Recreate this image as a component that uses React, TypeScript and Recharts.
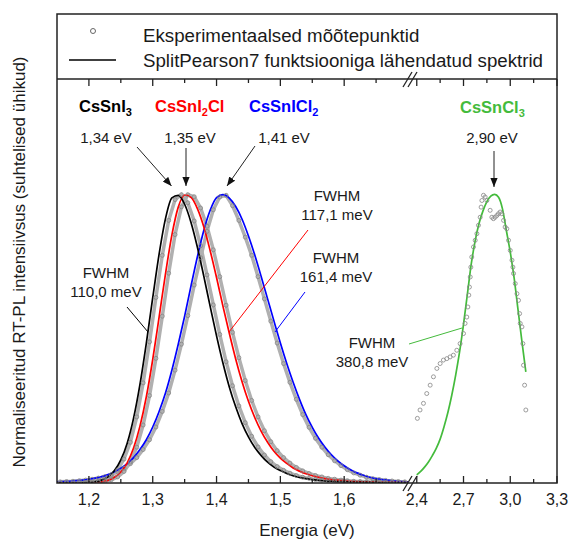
import React from 'react';
import { ComposedChart, Line, XAxis, YAxis } from 'recharts';

const FONT = '"Liberation Sans", Arial, Helvetica, sans-serif';
const INK = '#1a1a1a';
const FRAME = '#222222';
const RED = '#ff0000';
const BLUE = '#0000ff';
const GREEN = '#44bb3c';
const EXP_BAND = '#b0b0b0';
const EXP_RING = '#858585';

// left panel: fitted SplitPearson7 curves, 10 meV grid
const fitEnergy = [
  1.15, 1.16, 1.17, 1.18, 1.19, 1.2, 1.21, 1.22, 1.23, 1.24,
  1.25, 1.26, 1.27, 1.28, 1.29, 1.3, 1.31, 1.32, 1.33, 1.34,
  1.35, 1.36, 1.37, 1.38, 1.39, 1.4, 1.41, 1.42, 1.43, 1.44,
  1.45, 1.46, 1.47, 1.48, 1.49, 1.5, 1.51, 1.52, 1.53, 1.54,
  1.55, 1.56, 1.57, 1.58, 1.59, 1.6, 1.61, 1.62, 1.63, 1.64,
  1.65, 1.66, 1.67, 1.68, 1.69, 1.7,
];
const fitCsSnI3 = [
  0, 0, 0, 0, 0.001, 0.002, 0.005, 0.01, 0.021, 0.043,
  0.08, 0.138, 0.225, 0.342, 0.485, 0.642, 0.793, 0.916, 0.988, 0.997,
  0.966, 0.903, 0.817, 0.717, 0.612, 0.51, 0.416, 0.333, 0.264, 0.206,
  0.16, 0.123, 0.095, 0.072, 0.055, 0.043, 0.033, 0.025, 0.019, 0.015,
  0.012, 0.009, 0.007, 0.006, 0.005, 0.004, 0.003, 0.002, 0.002, 0.002,
  0.001, 0.001, 0.001, 0.001, 0.001, 0.001,
];
const fitCsSnI2Cl = [
  0, 0, 0, 0, 0, 0.001, 0.002, 0.004, 0.009, 0.02,
  0.038, 0.07, 0.121, 0.197, 0.299, 0.428, 0.575, 0.725, 0.859, 0.956,
  0.998, 0.99, 0.951, 0.888, 0.805, 0.712, 0.613, 0.519, 0.43, 0.351,
  0.283, 0.226, 0.179, 0.141, 0.11, 0.086, 0.068, 0.052, 0.041, 0.032,
  0.025, 0.02, 0.015, 0.012, 0.01, 0.008, 0.006, 0.005, 0.004, 0.003,
  0.003, 0.002, 0.002, 0.002, 0.001, 0.001,
];
const fitCsSnICl2 = [
  0.004, 0.005, 0.006, 0.008, 0.01, 0.013, 0.017, 0.022, 0.029, 0.039,
  0.051, 0.067, 0.088, 0.116, 0.15, 0.194, 0.248, 0.312, 0.391, 0.481,
  0.578, 0.683, 0.784, 0.875, 0.945, 0.989, 0.999, 0.987, 0.958, 0.914,
  0.856, 0.789, 0.715, 0.638, 0.561, 0.485, 0.414, 0.349, 0.29, 0.237,
  0.193, 0.155, 0.124, 0.098, 0.077, 0.06, 0.046, 0.035, 0.027, 0.02,
  0.015, 0.012, 0.009, 0.0065, 0.005, 0.004,
];

// left panel: measured points
const expEnergy = [
  1.155, 1.165, 1.175, 1.185, 1.195, 1.205, 1.215, 1.225, 1.235, 1.245,
  1.255, 1.265, 1.275, 1.285, 1.295, 1.305, 1.315, 1.325, 1.335, 1.345,
  1.355, 1.365, 1.375, 1.385, 1.395, 1.405, 1.415, 1.425, 1.435, 1.445,
  1.455, 1.465, 1.475, 1.485, 1.495, 1.505, 1.515, 1.525, 1.535, 1.545,
  1.555, 1.565, 1.575, 1.585, 1.595, 1.605, 1.615, 1.625, 1.635, 1.645,
  1.655, 1.665, 1.675, 1.685, 1.695,
];
const expCsSnI3 = [
  0, 0.001, 0, 0.001, 0.001, 0.003, 0.006, 0.011, 0.023, 0.045,
  0.083, 0.141, 0.229, 0.347, 0.489, 0.643, 0.789, 0.91, 0.982, 0.999,
  0.971, 0.908, 0.822, 0.721, 0.617, 0.515, 0.42, 0.337, 0.267, 0.209,
  0.162, 0.125, 0.097, 0.074, 0.057, 0.044, 0.034, 0.026, 0.02, 0.016,
  0.012, 0.01, 0.008, 0.006, 0.005, 0.004, 0.003, 0.003, 0.002, 0.002,
  0.002, 0.001, 0.001, 0.001, 0.001,
];
const expCsSnI2Cl = [
  0, 0, 0, 0.001, 0.001, 0.001, 0.003, 0.005, 0.011, 0.021,
  0.04, 0.073, 0.124, 0.201, 0.303, 0.432, 0.578, 0.727, 0.861, 0.957,
  0.999, 0.992, 0.953, 0.89, 0.808, 0.715, 0.616, 0.522, 0.434, 0.355,
  0.286, 0.229, 0.181, 0.143, 0.112, 0.088, 0.069, 0.054, 0.042, 0.033,
  0.026, 0.021, 0.016, 0.013, 0.01, 0.008, 0.006, 0.005, 0.004, 0.003,
  0.003, 0.002, 0.002, 0.002, 0.001,
];
const expCsSnICl2 = [
  0.004, 0.005, 0.006, 0.008, 0.01, 0.013, 0.017, 0.022, 0.029, 0.039,
  0.051, 0.067, 0.088, 0.116, 0.15, 0.194, 0.248, 0.312, 0.391, 0.481,
  0.58, 0.686, 0.781, 0.872, 0.947, 0.991, 0.997, 0.961, 0.91, 0.852,
  0.789, 0.715, 0.638, 0.561, 0.485, 0.414, 0.349, 0.29, 0.237, 0.193,
  0.155, 0.124, 0.098, 0.077, 0.06, 0.046, 0.035, 0.027, 0.02, 0.015,
  0.012, 0.009, 0.007, 0.005, 0.004,
];

// right panel: CsSnCl3
const fitCsSnCl3Energy = [
  2.4, 2.425, 2.45, 2.475, 2.5, 2.525, 2.55, 2.575, 2.6, 2.625,
  2.65, 2.675, 2.7, 2.725, 2.75, 2.775, 2.8, 2.825, 2.85, 2.875,
  2.9, 2.925, 2.95, 2.975, 3.0, 3.025, 3.05, 3.075, 3.1,
];
const fitCsSnCl3 = [
  0.028, 0.04, 0.055, 0.073, 0.095, 0.12, 0.152, 0.195, 0.245, 0.305,
  0.375, 0.455, 0.55, 0.655, 0.76, 0.84, 0.9, 0.943, 0.975, 0.994,
  1.0, 0.99, 0.95, 0.875, 0.8, 0.71, 0.6, 0.49, 0.385,
];
const expCsSnCl3Energy = [
  2.404, 2.421, 2.443, 2.464, 2.486, 2.507, 2.529, 2.55, 2.571, 2.593,
  2.614, 2.635, 2.657, 2.678, 2.7, 2.71, 2.721, 2.728, 2.734, 2.738,
  2.743, 2.747, 2.753, 2.764, 2.775, 2.786, 2.796, 2.807, 2.813, 2.818,
  2.828, 2.839, 2.85, 2.871, 2.882, 2.892, 2.903, 2.914, 2.924, 2.935,
  2.946, 2.957, 2.967, 2.978, 2.989, 3.0, 3.011, 3.017, 3.021, 3.032,
  3.043, 3.053, 3.06, 3.064, 3.075, 3.081, 3.085, 3.092, 3.1,
];
const expCsSnCl3 = [
  0.224, 0.253, 0.276, 0.31, 0.339, 0.368, 0.397, 0.414, 0.426, 0.431,
  0.437, 0.443, 0.46, 0.483, 0.518, 0.553, 0.575, 0.61, 0.651, 0.679,
  0.714, 0.748, 0.783, 0.818, 0.841, 0.864, 0.893, 0.921, 0.956, 0.979,
  0.997, 0.991, 0.979, 0.945, 0.921, 0.916, 0.921, 0.927, 0.933, 0.939,
  0.933, 0.91, 0.887, 0.881, 0.841, 0.806, 0.772, 0.748, 0.726, 0.691,
  0.656, 0.633, 0.587, 0.553, 0.541, 0.483, 0.408, 0.339, 0.253,
];

const leftMajorTicks = [1.2, 1.3, 1.4, 1.5, 1.6];
const leftMinorTicks = [1.25, 1.35, 1.45, 1.55, 1.65];
const rightMajorTicks = [2.4, 2.7, 3.0, 3.3];
const rightMinorTicks = [2.55, 2.85, 3.15];

const leftFitRows = fitEnergy.map((e, i) => ({
  e,
  i3: fitCsSnI3[i],
  i2cl: fitCsSnI2Cl[i],
  icl2: fitCsSnICl2[i],
}));
const leftExpRows = expEnergy.map((e, i) => ({
  e,
  i3: expCsSnI3[i],
  i2cl: expCsSnI2Cl[i],
  icl2: expCsSnICl2[i],
}));
const rightFitRows = fitCsSnCl3Energy.map((e, i) => ({ e, v: fitCsSnCl3[i] }));
const rightExpRows = expCsSnCl3Energy.map((e, i) => ({ e, v: expCsSnCl3[i] }));

const fmt = (v: number) => v.toFixed(1).replace('.', ',');

// ticks point into the plot; labels only under the major ones
function makeTick(majors: number[], dir: 1 | -1, labelled: boolean) {
  return (props: any) => {
    const { x, y, payload } = props;
    const major = majors.some((m) => Math.abs(m - payload.value) < 1e-6);
    const len = major ? 7 : 4;
    return (
      <g>
        <line x1={x} x2={x} y1={y} y2={y - dir * len} stroke={FRAME} strokeWidth={1.3} />
        {labelled && major && (
          <text x={x} y={y + 22} textAnchor="middle" fontSize={16} fontFamily={FONT} fill={INK}>
            {fmt(payload.value)}
          </text>
        )}
      </g>
    );
  };
}

const expDot = { r: 2, stroke: EXP_RING, strokeWidth: 0.8, fill: 'none' };

function LeftPanel() {
  const ticks = [...leftMajorTicks, ...leftMinorTicks];
  const expLine = (key: string) => (
    <Line
      xAxisId="b"
      data={leftExpRows}
      dataKey={key}
      type="linear"
      stroke={EXP_BAND}
      strokeWidth={3.5}
      dot={expDot}
      isAnimationActive={false}
    />
  );
  return (
    <ComposedChart width={408} height={540} margin={{ top: 49, right: 0, bottom: 27, left: 57 }}>
      <XAxis
        xAxisId="b"
        dataKey="e"
        type="number"
        domain={[1.15, 1.7]}
        ticks={ticks}
        interval={0}
        height={30}
        tickSize={0}
        tickMargin={0}
        axisLine={false}
        tickLine={false}
        tick={makeTick(leftMajorTicks, 1, true)}
        allowDataOverflow
      />
      <XAxis
        xAxisId="t"
        orientation="top"
        dataKey="e"
        type="number"
        domain={[1.15, 1.7]}
        ticks={ticks}
        interval={0}
        height={30}
        tickSize={0}
        tickMargin={0}
        axisLine={false}
        tickLine={false}
        tick={makeTick(leftMajorTicks, -1, false)}
        allowDataOverflow
      />
      <YAxis hide type="number" domain={[0, 1.4]} allowDataOverflow />
      {expLine('icl2')}
      {expLine('i2cl')}
      {expLine('i3')}
      <Line xAxisId="b" data={leftFitRows} dataKey="icl2" type="monotone" stroke={BLUE} strokeWidth={1.7} dot={false} isAnimationActive={false} />
      <Line xAxisId="b" data={leftFitRows} dataKey="i2cl" type="monotone" stroke={RED} strokeWidth={1.7} dot={false} isAnimationActive={false} />
      <Line xAxisId="b" data={leftFitRows} dataKey="i3" type="monotone" stroke="#000" strokeWidth={1.7} dot={false} isAnimationActive={false} />
    </ComposedChart>
  );
}

function RightPanel() {
  const ticks = [...rightMajorTicks, ...rightMinorTicks];
  return (
    <ComposedChart width={180} height={540} margin={{ top: 49, right: 14, bottom: 27, left: 20 }}>
      <XAxis
        xAxisId="b"
        dataKey="e"
        type="number"
        domain={[2.363, 3.3]}
        ticks={ticks}
        interval={0}
        height={30}
        tickSize={0}
        tickMargin={0}
        axisLine={false}
        tickLine={false}
        tick={makeTick(rightMajorTicks, 1, true)}
        allowDataOverflow
      />
      <XAxis
        xAxisId="t"
        orientation="top"
        dataKey="e"
        type="number"
        domain={[2.363, 3.3]}
        ticks={ticks}
        interval={0}
        height={30}
        tickSize={0}
        tickMargin={0}
        axisLine={false}
        tickLine={false}
        tick={makeTick(rightMajorTicks, -1, false)}
        allowDataOverflow
      />
      <YAxis hide type="number" domain={[0, 1.4]} allowDataOverflow />
      <Line xAxisId="b" data={rightExpRows} dataKey="v" type="linear" stroke="none" dot={expDot} isAnimationActive={false} />
      <Line xAxisId="b" data={rightFitRows} dataKey="v" type="monotone" stroke={GREEN} strokeWidth={1.7} dot={false} isAnimationActive={false} />
    </ComposedChart>
  );
}

function Compound({ x, y, color, parts }: { x: number; y: number; color: string; parts: [string, boolean][] }) {
  return (
    <text x={x} y={y} fill={color} fontFamily={FONT} fontWeight="bold" fontSize={16.5}>
      {parts.map(([t, sub], i) => (
        <tspan key={i} fontSize={sub ? 11 : 16.5} dy={sub ? 4 : i > 0 && parts[i - 1][1] ? -4 : 0}>
          {t}
        </tspan>
      ))}
    </text>
  );
}

function Note({ x, y, lines, color = INK }: { x: number; y: number; lines: string[]; color?: string }) {
  return (
    <text x={x} y={y} fill={color} fontFamily={FONT} fontSize={15} textAnchor="middle">
      {lines.map((l, i) => (
        <tspan key={i} x={x} dy={i === 0 ? 0 : 19}>
          {l}
        </tspan>
      ))}
    </text>
  );
}

function Overlay() {
  const arrow = { stroke: '#222', strokeWidth: 1, markerEnd: 'url(#tip)' };
  return (
    <svg width={571} height={540} style={{ position: 'absolute', left: 0, top: 0, pointerEvents: 'none' }}>
      <defs>
        <marker id="tip" viewBox="0 0 10 8" refX="10" refY="4" markerWidth="9" markerHeight="7.2" orient="auto" markerUnits="userSpaceOnUse">
          <path d="M0,0 L10,4 L0,8 z" fill="#111" />
        </marker>
      </defs>

      {/* frame and legend box */}
      <rect x={57} y={14} width={500} height={469} fill="none" stroke={FRAME} strokeWidth={1.5} />
      <line x1={57} x2={557} y1={79} y2={79} stroke={FRAME} strokeWidth={1.5} />
      <circle cx={93} cy={31} r={2.5} fill="none" stroke="#666" strokeWidth={1} />
      <line x1={69} x2={116} y1={60} y2={60} stroke="#000" strokeWidth={1.6} />
      <text x={143} y={41.5} fontFamily={FONT} fontSize={18.7} fill={INK}>Eksperimentaalsed mõõtepunktid</text>
      <text x={143} y={67} fontFamily={FONT} fontSize={18.7} fill={INK}>SplitPearson7 funktsiooniga lähendatud spektrid</text>

      {/* axis break marks */}
      <g stroke={FRAME} strokeWidth={1.3}>
        <line x1={403} y1={491} x2={412} y2={476} />
        <line x1={408} y1={491} x2={417} y2={476} />
        <line x1={403} y1={87} x2={412} y2={72} />
        <line x1={408} y1={87} x2={417} y2={72} />
      </g>

      {/* compounds and peak positions */}
      <Compound x={79} y={112} color="#000" parts={[['CsSnI', false], ['3', true]]} />
      <Compound x={155} y={112} color={RED} parts={[['CsSnI', false], ['2', true], ['Cl', false]]} />
      <Compound x={249} y={112} color={BLUE} parts={[['CsSnICl', false], ['2', true]]} />
      <Compound x={460} y={113} color={GREEN} parts={[['CsSnCl', false], ['3', true]]} />
      <Note x={106} y={143} lines={['1,34 eV']} />
      <Note x={190} y={143} lines={['1,35 eV']} />
      <Note x={284} y={143} lines={['1,41 eV']} />
      <Note x={492} y={143} lines={['2,90 eV']} />
      <line x1={137} y1={147} x2={171.5} y2={186} {...arrow} />
      <line x1={186} y1={148} x2={186} y2={186} {...arrow} />
      <line x1={255} y1={146} x2={227} y2={186} {...arrow} />
      <line x1={494} y1={151} x2={494} y2={187} {...arrow} />

      {/* FWHM callouts */}
      <Note x={106} y={278} lines={['FWHM', '110,0 meV']} />
      <line x1={127} y1={307} x2={148} y2={332} stroke="#000" strokeWidth={1} />
      <Note x={337} y={201} lines={['FWHM', '117,1 meV']} />
      <line x1={308} y1={230} x2={229} y2={332} stroke={RED} strokeWidth={1} />
      <Note x={336} y={263} lines={['FWHM', '161,4 meV']} />
      <line x1={305} y1={292} x2={275} y2={332} stroke={BLUE} strokeWidth={1} />
      <Note x={372} y={348} lines={['FWHM', '380,8 meV']} />
      <line x1={409} y1={344} x2={462} y2={328} stroke={GREEN} strokeWidth={1} />

      {/* axis titles */}
      <text x={307} y={536} textAnchor="middle" fontFamily={FONT} fontSize={17} fill={INK}>Energia (eV)</text>
      <text
        x={25}
        y={262}
        transform="rotate(-90 25 262)"
        textAnchor="middle"
        fontFamily={FONT}
        fontSize={17}
        fill={INK}
      >
        Normaliseeritud RT-PL intensiivsus (suhtelised ühikud)
      </text>
    </svg>
  );
}

export default function App() {
  return (
    <div style={{ position: 'absolute', left: 0, top: 0, width: 571, height: 540, background: '#fff', overflow: 'hidden' }}>
      <div style={{ position: 'absolute', left: 0, top: 0 }}>
        <LeftPanel />
      </div>
      <div style={{ position: 'absolute', left: 391, top: 0 }}>
        <RightPanel />
      </div>
      <Overlay />
    </div>
  );
}
